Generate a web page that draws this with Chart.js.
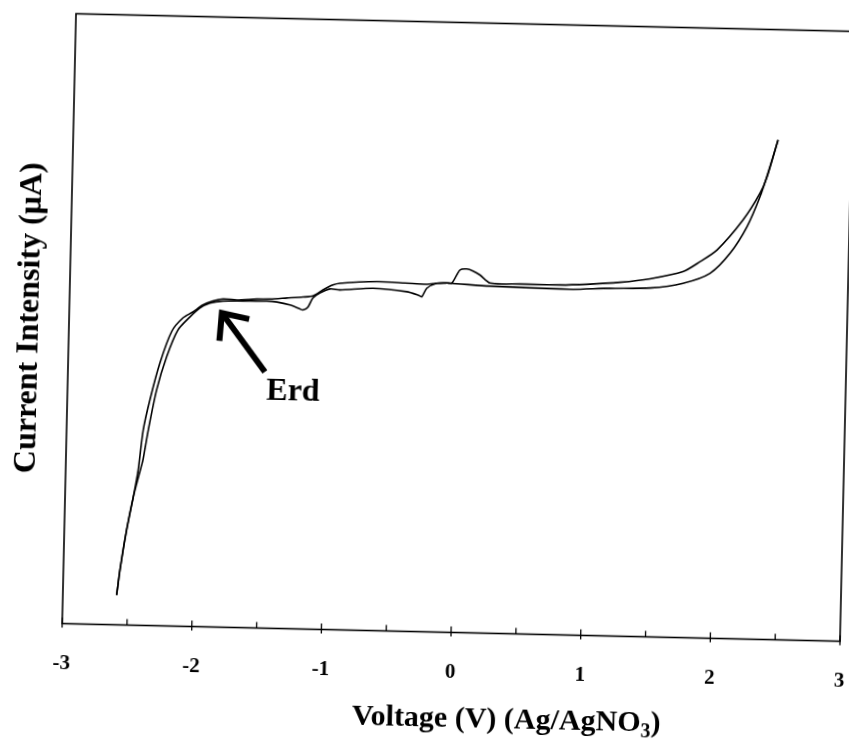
<!DOCTYPE html>
<html><head><meta charset="utf-8">
<script src="https://cdn.jsdelivr.net/npm/chart.js@4/dist/chart.umd.min.js"></script>
<style>
html,body{margin:0;padding:0;background:#fff;overflow:hidden;width:849px;height:745px;}
#wrap{position:absolute;left:0;top:0;width:880px;height:745px;transform-origin:458px 327.5px;transform:rotate(1.3deg);}
canvas{display:block;}
</style></head><body>
<div id="wrap"><canvas id="c" width="880" height="745"></canvas></div>
<script>
// x axis tick labels (V)
const xTicks = [-3, -2, -1, 0, 1, 2, 3];
const xMinorTicks = [-2.5, -1.5, -0.5, 0.5, 1.5, 2.5];

// sweep A (outer branch at left, upper at plateau)
const sweepAX = [-2.585,-2.564,-2.520,-2.474,-2.441,-2.409,-2.363,-2.292,-2.205,-2.123,-2.046,-1.971,-1.894,-1.817,-1.709,-1.555,-1.455,-1.324,-1.201,-1.124,-1.048,-0.972,-0.918,-0.633,-0.417,-0.247,-0.170,-0.093,-0.054,0.005,0.059,0.106,0.160,0.239,0.470,0.779,0.987,1.241,1.472,1.725,1.855,1.984,2.179,2.305,2.357,2.435];
const sweepAY = [4.88,8.99,15.57,21.0,25.45,32.03,36.97,43.07,48.36,50.53,51.56,52.74,53.43,53.80,53.69,53.92,53.97,54.2,54.42,54.62,55.65,56.50,56.81,57.21,57.10,56.97,57.17,57.25,57.27,59.43,59.62,59.32,58.69,57.41,57.36,57.35,57.56,58.01,58.70,59.99,61.69,63.67,68.68,73.12,75.87,81.93];

// sweep B (inner branch at left, lower at plateau, with dips)
const sweepBX = [-2.585,-2.564,-2.520,-2.472,-2.434,-2.406,-2.370,-2.313,-2.241,-2.159,-2.069,-1.993,-1.917,-1.817,-1.663,-1.478,-1.400,-1.300,-1.222,-1.199,-1.160,-1.124,-1.070,-0.994,-0.917,-0.662,-0.402,-0.314,-0.285,-0.248,-0.172,-0.093,0.239,0.779,0.880,1.165,1.474,1.727,1.934,2.085,2.211,2.306,2.363,2.435];
const sweepBY = [4.88,8.99,15.57,21.2,24.63,27.11,32.04,38.63,44.13,48.55,50.72,52.24,53.09,53.47,53.54,53.63,53.51,53.06,52.45,52.29,52.80,54.30,55.14,55.84,55.71,56.11,55.68,55.18,54.91,56.31,57.17,57.25,56.9,56.7,56.69,56.99,57.19,58.08,59.82,63.18,67.60,72.57,76.48,81.93];

const yTitle = 'Current Intensity (\u03BCA)';
const xTitleMain = 'Voltage (V) (Ag/AgNO';
const xTitleSub = '3';
const xTitleEnd = ')';
const noteText = 'Erd';
const noteTip = {x: -1.823, y: 51.5};
const noteTail = {x: -1.481, y: 42.0};
const noteLabel = {x: -1.261, y: 38.8};

const SERIF = '"Liberation Serif", "Times New Roman", serif';

function pts(xs, ys){ return xs.map((v,i)=>({x:v, y:ys[i]})); }

const deco = {
  id: 'deco',
  afterDraw(chart){
    const {ctx, chartArea: a, scales: {x, y}} = chart;
    ctx.save();
    ctx.strokeStyle = '#000';
    ctx.lineWidth = 1.6;
    ctx.strokeRect(a.left, a.top, a.right - a.left, a.bottom - a.top);
    // ticks
    ctx.lineWidth = 1.3;
    xTicks.forEach(v => {
      const px = x.getPixelForValue(v);
      ctx.beginPath(); ctx.moveTo(px, a.bottom + 4); ctx.lineTo(px, a.bottom - 6); ctx.stroke();
    });
    xMinorTicks.forEach(v => {
      const px = x.getPixelForValue(v);
      ctx.beginPath(); ctx.moveTo(px, a.bottom); ctx.lineTo(px, a.bottom - 6); ctx.stroke();
    });
    // x title with subscript
    ctx.fillStyle = '#000';
    ctx.textBaseline = 'alphabetic';
    const fMain = 'bold 30px ' + SERIF, fSub = 'bold 20px ' + SERIF;
    ctx.font = fMain; const w1 = ctx.measureText(xTitleMain).width; const w3 = ctx.measureText(xTitleEnd).width;
    ctx.font = fSub; const w2 = ctx.measureText(xTitleSub).width;
    const cx = x.getPixelForValue(0.44), by = a.bottom + 94;
    let sx = cx - (w1 + w2 + w3) / 2;
    ctx.font = fMain; ctx.textAlign = 'left'; ctx.fillText(xTitleMain, sx, by);
    ctx.font = fSub; ctx.fillText(xTitleSub, sx + w1, by + 6);
    ctx.font = fMain; ctx.fillText(xTitleEnd, sx + w1 + w2, by);
    // annotation arrow
    const tx = x.getPixelForValue(noteTip.x), ty = y.getPixelForValue(noteTip.y);
    const lx = x.getPixelForValue(noteTail.x), ly = y.getPixelForValue(noteTail.y);
    const ang = Math.atan2(ly - ty, lx - tx);
    ctx.lineWidth = 6; ctx.lineCap = 'butt'; ctx.lineJoin = 'miter';
    ctx.beginPath(); ctx.moveTo(lx, ly); ctx.lineTo(tx + 4*Math.cos(ang), ty + 4*Math.sin(ang)); ctx.stroke();
    const L = 28, sp = 0.72;
    ctx.beginPath();
    ctx.moveTo(tx + L*Math.cos(ang + sp), ty + L*Math.sin(ang + sp));
    ctx.lineTo(tx, ty);
    ctx.lineTo(tx + L*Math.cos(ang - sp), ty + L*Math.sin(ang - sp));
    ctx.stroke();
    ctx.font = 'bold 32px ' + SERIF; ctx.textAlign = 'center'; ctx.textBaseline = 'middle';
    ctx.fillText(noteText, x.getPixelForValue(noteLabel.x), y.getPixelForValue(noteLabel.y));
    ctx.restore();
  }
};

new Chart(document.getElementById('c'), {
  type: 'scatter',
  data: {
    datasets: [
      {label: 'sweep A', data: pts(sweepAX, sweepAY), showLine: true, borderColor: '#000', borderWidth: 1.6, pointRadius: 0, tension: 0.25, fill: false},
      {label: 'sweep B', data: pts(sweepBX, sweepBY), showLine: true, borderColor: '#000', borderWidth: 1.6, pointRadius: 0, tension: 0.25, fill: false}
    ]
  },
  options: {
    responsive: false,
    animation: false,
    devicePixelRatio: 1,
    layout: {padding: {left: 0, right: 33, top: 22.5, bottom: 0}},
    plugins: {legend: {display: false}, tooltip: {enabled: false}},
    scales: {
      x: {
        type: 'linear', min: -3, max: 3,
        afterBuildTicks: s => { s.ticks = xTicks.map(v => ({value: v})); },
        afterFit: s => { s.height = 112.5; },
        grid: {display: false, drawTicks: false},
        border: {display: false},
        ticks: {color: '#000', padding: 27, font: {family: SERIF, size: 21, weight: 'bold'}}
      },
      y: {
        type: 'linear', min: 0, max: 100,
        afterFit: s => { s.width = 69; },
        grid: {display: false, drawTicks: false},
        border: {display: false},
        ticks: {display: false},
        title: {display: true, text: yTitle, color: '#000', padding: {top: 11, bottom: 0}, font: {family: SERIF, size: 32, weight: 'bold'}}
      }
    }
  },
  plugins: [deco]
});
</script>
</body></html>
